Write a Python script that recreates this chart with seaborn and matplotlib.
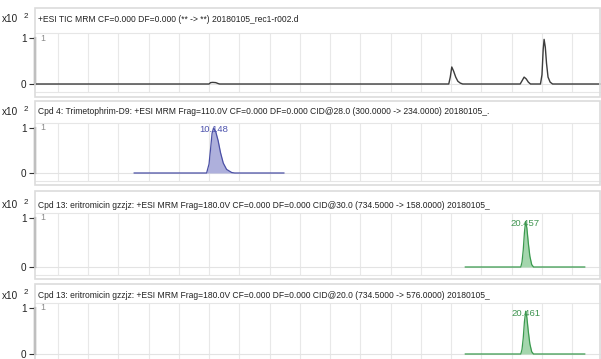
import matplotlib
matplotlib.use("Agg")
import matplotlib.pyplot as plt
import seaborn as sns
from matplotlib.patches import Rectangle

# ---- data (retention time in min, response x10^2) ----
tic_time = [4.25, 10.0, 10.05, 10.12, 10.22, 10.3, 10.35,
            17.92, 17.97, 18.02, 18.08, 18.15, 18.22, 18.3, 18.38,
            20.28, 20.35, 20.41, 20.48, 20.55, 20.62,
            20.95, 21.0, 21.04, 21.07, 21.11, 21.15, 21.2, 21.27, 21.35, 22.95]
tic_resp = [0, 0, 0.03, 0.035, 0.03, 0.01, 0,
            0, 0.15, 0.37, 0.28, 0.15, 0.06, 0.02, 0,
            0, 0.08, 0.15, 0.11, 0.04, 0,
            0, 0.2, 0.75, 0.97, 0.8, 0.45, 0.15, 0.04, 0, 0]

tri_time = [7.52, 9.92, 10.0, 10.06, 10.1, 10.148, 10.22, 10.3, 10.38, 10.47, 10.58, 10.75, 10.85, 12.48]
tri_resp = [0, 0, 0.2, 0.6, 0.88, 1.0, 0.92, 0.72, 0.45, 0.22, 0.08, 0.01, 0, 0]

ery1_time = [18.46, 20.3, 20.34, 20.38, 20.42, 20.457, 20.5, 20.55, 20.6, 20.66, 20.72, 22.42]
ery1_resp = [0, 0, 0.1, 0.34, 0.7, 0.93, 0.8, 0.48, 0.22, 0.05, 0, 0]

ery2_time = [18.46, 20.3, 20.34, 20.38, 20.42, 20.461, 20.5, 20.55, 20.6, 20.66, 20.72, 22.42]
ery2_resp = [0, 0, 0.1, 0.34, 0.7, 0.93, 0.8, 0.48, 0.22, 0.05, 0, 0]

peak_rt = [None, 10.148, 20.457, 20.461]
peak_height = [None, 1.0, 0.93, 0.93]

titles = [
    "+ESI TIC MRM CF=0.000 DF=0.000 (** -> **) 20180105_rec1-r002.d",
    "Cpd 4: Trimetophrim-D9: +ESI MRM Frag=110.0V CF=0.000 DF=0.000 CID@28.0 (300.0000 -> 234.0000) 20180105_.",
    "Cpd 13: eritromicin gzzjz: +ESI MRM Frag=180.0V CF=0.000 DF=0.000 CID@30.0 (734.5000 -> 158.0000) 20180105_",
    "Cpd 13: eritromicin gzzjz: +ESI MRM Frag=180.0V CF=0.000 DF=0.000 CID@20.0 (734.5000 -> 576.0000) 20180105_",
]
traces = [(tic_time, tic_resp), (tri_time, tri_resp), (ery1_time, ery1_resp), (ery2_time, ery2_resp)]
line_colors = ["#3c3c3c", "#4a4fa5", "#3a9a4e", "#3a9a4e"]
fill_colors = [None, "#aeb0dc", "#a4d6ad", "#a4d6ad"]
label_colors = [None, "#4d53ad", "#3f9450", "#3f9450"]

# pixel layout (figure is 601 x 359)
W, H = 601, 359
ax_left, ax_right = 35, 601
y_one = [38, 128, 218, 308]
y_zero = [84, 173, 267, 354]
title_y = [19, 112, 205, 296]
frames = [(8, 97), (101, 185), (191, 279), (284, 370)]
YMIN, YMAX = -0.17, 1.1

sns.set_style("white")
plt.rcParams["font.family"] = ["Liberation Sans", "DejaVu Sans"]

fig = plt.figure(figsize=(W / 100, H / 100), dpi=100)
fig.patch.set_facecolor("white")

for i in range(4):
    # light panel frame
    top, bot = frames[i]
    fig.patches.append(Rectangle((ax_left / W, 1 - bot / H), (ax_right - ax_left - 1) / W, (bot - top) / H,
                                 transform=fig.transFigure, fill=False, edgecolor="#dcdcdc", lw=1.2))

    ppu = y_zero[i] - y_one[i]
    px_top = y_one[i] - (YMAX - 1) * ppu
    px_bot = y_zero[i] - YMIN * ppu
    ax = fig.add_axes([ax_left / W, 1 - px_bot / H, (ax_right - ax_left) / W, (px_bot - px_top) / H])
    ax.set_xlim(4.25, 22.95)
    ax.set_ylim(YMIN, YMAX)
    ax.set_facecolor("none")

    for t in range(5, 23):
        ax.axvline(t, color="#e8e8e8", lw=0.8, zorder=0)
    ax.axhline(0, color="#e3e3e3", lw=0.8, zorder=0)

    x, y = traces[i]
    if fill_colors[i]:
        ax.fill_between(x, y, 0, color=fill_colors[i], lw=0, zorder=2)
    sns.lineplot(x=x, y=y, ax=ax, color=line_colors[i], lw=1.0 if i == 0 else 0.9, zorder=3)

    if peak_rt[i] is not None:
        ax.text(peak_rt[i], peak_height[i] - 0.04, f"{peak_rt[i]:.3f}", color=label_colors[i],
                fontsize=6.8, ha="center", va="center", zorder=4)

    ax.set_yticks([0, 1])
    ax.set_yticklabels(["0", "1"], fontsize=7.2, color="#222222")
    ax.set_xticks([])
    ax.tick_params(axis="y", length=4, width=0.8, color="#333333", pad=2, left=True)
    ax.spines["left"].set_color("#333333")
    ax.spines["left"].set_linewidth(1.6)
    ax.spines["left"].set_bounds(0, 1)
    for s in ["top", "bottom"]:
        ax.spines[s].set_color("#e6e6e6")
        ax.spines[s].set_linewidth(0.8)
    ax.spines["right"].set_visible(False)
    ax.text(5 / (ax_right - ax_left), 1, "1", transform=ax.get_yaxis_transform(),
            fontsize=6.3, color="#8a8a8a", ha="left", va="center")

    # header line
    fig.text(2 / W, 1 - title_y[i] / H, "x10", fontsize=7.2, color="#222222", va="center", ha="left")
    fig.text(24 / W, 1 - (title_y[i] - 3) / H, "2", fontsize=5.8, color="#222222", va="center", ha="left")
    fig.text(38 / W, 1 - title_y[i] / H, titles[i], fontsize=6.15, color="#222222", va="center", ha="left")

fig.savefig("out.png", dpi=100, facecolor="white")
